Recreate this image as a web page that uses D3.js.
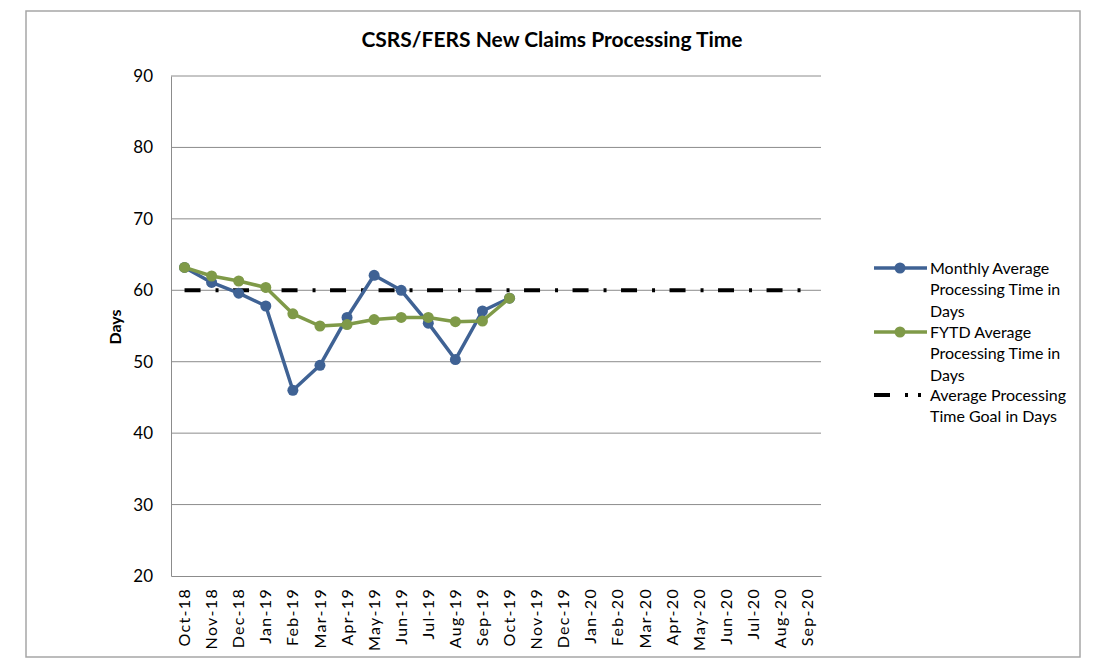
<!DOCTYPE html>
<html><head><meta charset="utf-8">
<script src="https://cdn.jsdelivr.net/npm/d3@7"></script>
<style>body{margin:0;background:#fff}svg{display:block}text{font-family:Lato,"Open Sans",sans-serif}</style>
</head><body><svg id="c" width="1106" height="668"></svg>
<script>
const categories = ["Oct-18","Nov-18","Dec-18","Jan-19","Feb-19","Mar-19","Apr-19","May-19","Jun-19","Jul-19","Aug-19","Sep-19","Oct-19","Nov-19","Dec-19","Jan-20","Feb-20","Mar-20","Apr-20","May-20","Jun-20","Jul-20","Aug-20","Sep-20"];
const monthly = [63.2,61.1,59.6,57.8,46.0,49.5,56.2,62.1,60.0,55.4,50.3,57.1,58.9];
const fytd = [63.2,62.0,61.3,60.4,56.7,55.0,55.2,55.9,56.2,56.2,55.6,55.7,58.9];
const goal = categories.map(() => 60);
const yTicks = [20,30,40,50,60,70,80,90];
const seriesNames = [["Monthly Average","Processing Time in","Days"],["FYTD Average","Processing Time in","Days"],["Average Processing","Time Goal in Days"]];

const svg = d3.select("#c");
const L=171, R=821, T=76, B=576;
const blue="#3F6294", green="#7F9A48";
svg.append("rect").attr("x",26).attr("y",11).attr("width",1054).attr("height",646).attr("fill","#fff").attr("stroke","#a6a6a6").attr("stroke-width",1.5);

const x = d3.scaleBand().domain(categories).range([L,R]);
const cx = d => x(d)+x.bandwidth()/2;
const y = d3.scaleLinear().domain([20,90]).range([B,T]);

// grid
svg.append("g").selectAll("line").data(yTicks.slice(1)).join("line")
  .attr("x1",L).attr("x2",R).attr("y1",d=>y(d)).attr("y2",d=>y(d)).attr("stroke","#8c8c8c").attr("stroke-width",1);
// axes
const yAxis = svg.append("g").attr("transform",`translate(${L},0)`).call(d3.axisLeft(y).tickValues(yTicks).tickSize(0).tickPadding(18));
yAxis.select(".domain").attr("stroke","#8c8c8c");
yAxis.selectAll("text").attr("font-size",17).attr("fill","#000").style("font-family","Lato");
const xAxis = svg.append("g").attr("transform",`translate(0,${B})`).call(d3.axisBottom(x).tickSize(0).tickPadding(0));
xAxis.select(".domain").attr("stroke","#8c8c8c");
xAxis.selectAll("text").attr("font-size",16).attr("fill","#000").style("font-family","Lato").style("letter-spacing","1.3px")
  .attr("transform","rotate(-90)").attr("text-anchor","end").attr("x",-12).attr("y",0).attr("dy","0.35em");

// goal line
const line = d3.line().x((d,i)=>cx(categories[i])).y(d=>y(d));
svg.append("path").datum(goal).attr("d",line).attr("fill","none").attr("stroke","#000").attr("stroke-width",4)
  .attr("stroke-dasharray","16,15,3,14.5");
// series
[[monthly,blue],[fytd,green]].forEach(([data,col])=>{
  svg.append("path").datum(data).attr("d",line).attr("fill","none").attr("stroke",col).attr("stroke-width",3.5).attr("stroke-linejoin","round");
  svg.append("g").selectAll("circle").data(data).join("circle")
    .attr("cx",(d,i)=>cx(categories[i])).attr("cy",d=>y(d)).attr("r",5.5).attr("fill",col);
});

// title
svg.append("text").attr("x",552).attr("y",47).attr("text-anchor","middle").attr("font-size",21).attr("font-weight","bold").text("CSRS/FERS New Claims Processing Time");
// y label
svg.append("text").attr("transform","translate(121,327) rotate(-90)").attr("text-anchor","middle").attr("font-size",16).attr("font-weight","bold").text("Days");

// legend
const lg = svg.append("g");
const legY=[268,332,395];
const cols=[blue,green,"#000"];
seriesNames.forEach((lines,i)=>{
  if(i<2){
    lg.append("line").attr("x1",874).attr("x2",927).attr("y1",legY[i]).attr("y2",legY[i]).attr("stroke",cols[i]).attr("stroke-width",3.5);
    lg.append("circle").attr("cx",900).attr("cy",legY[i]).attr("r",5.5).attr("fill",cols[i]);
  } else {
    lg.append("line").attr("x1",874).attr("x2",927).attr("y1",legY[i]).attr("y2",legY[i]).attr("stroke","#000").attr("stroke-width",4).attr("stroke-dasharray","16,15,3,10,3,10");
  }
  const t = lg.append("text").attr("x",930).attr("y",legY[i]+6).attr("font-size",16);
  lines.forEach((s,j)=>t.append("tspan").attr("x",930).attr("dy",j?21.3:0).text(s));
});
</script></body></html>
